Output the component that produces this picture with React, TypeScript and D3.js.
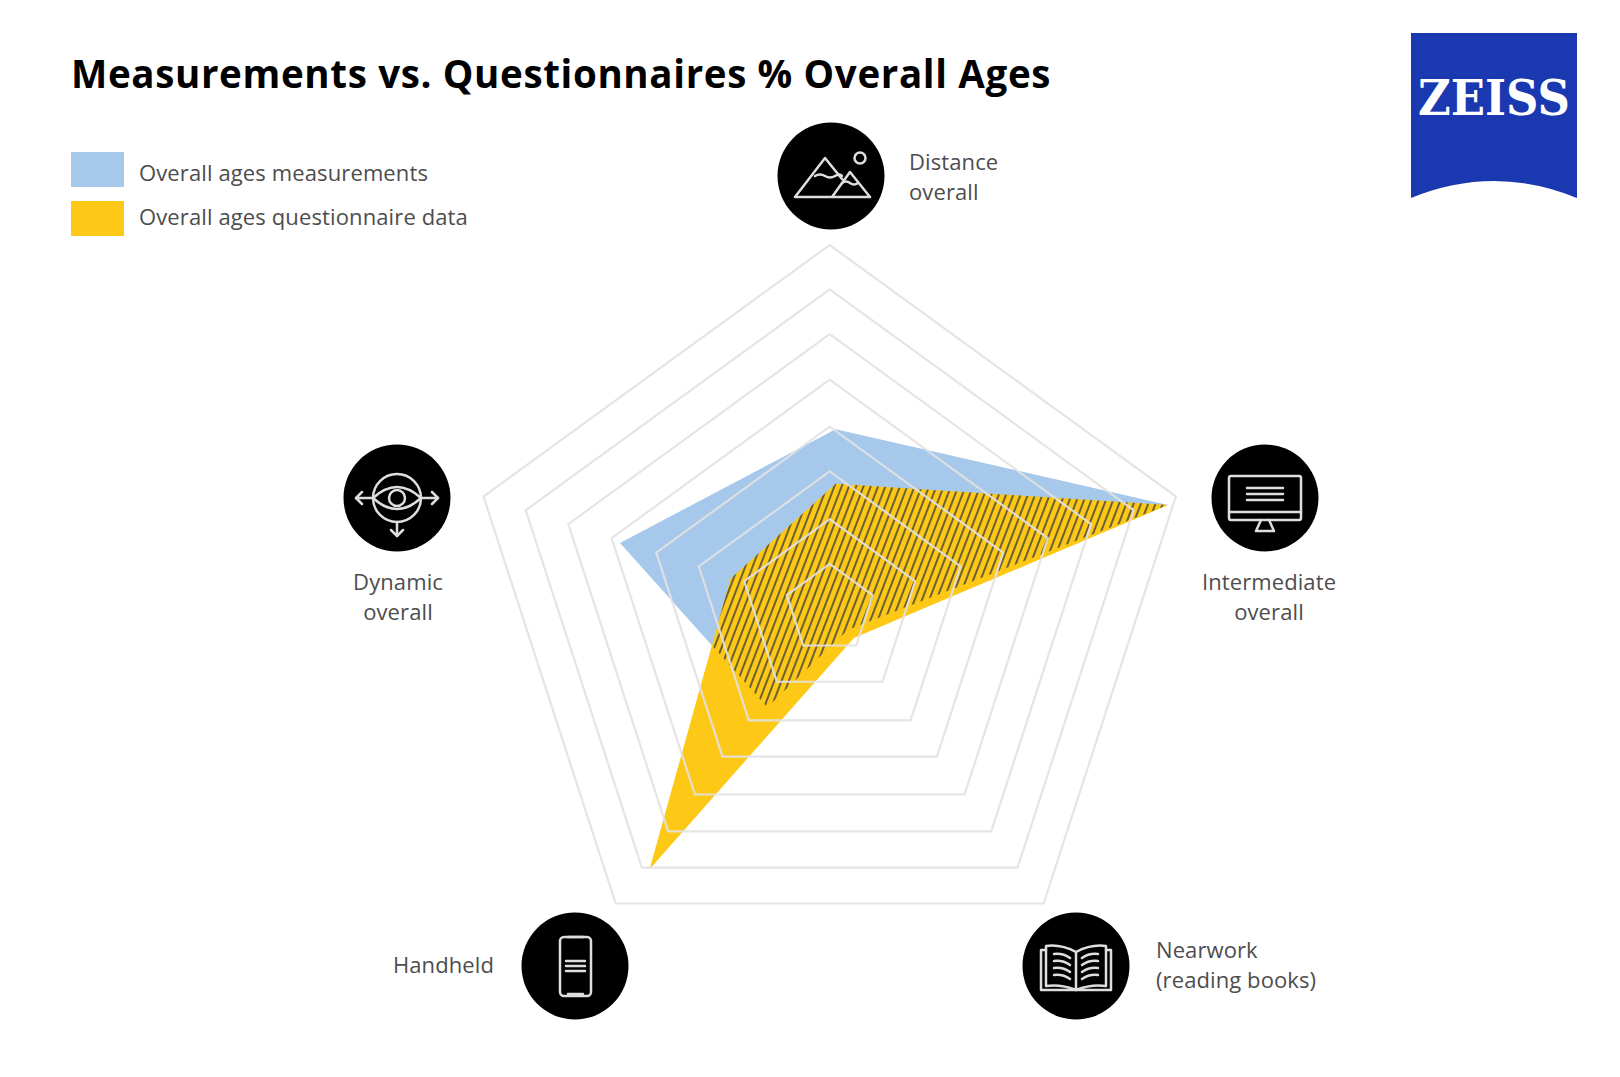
import * as d3 from "d3";

const categories = ["Distance overall", "Intermediate overall", "Nearwork (reading books)", "Handheld", "Dynamic overall"];
const measurements = [50.5, 96, 5.7, 32, 62.3];
const questionnaire = [35.5, 96, 8.5, 87, 30.4];
const ringLevels = [12.4, 24.7, 37.8, 50.1, 63, 75.5, 87.8, 100];
const legendLabels = ["Overall ages measurements", "Overall ages questionnaire data"];

const width = 1620;
const height = 1077;
const cx = 829.7;
const cy = 609;
const radius = 364;
const font = "'Open Sans', sans-serif";
const labelColor = "#4d4d4d";
const iconColor = "#dedede";

const r = d3.scaleLinear().domain([0, 100]).range([0, radius]);
const angle = d3
  .scaleLinear()
  .domain([0, categories.length])
  .range([0, 2 * Math.PI]);

const radar = d3
  .lineRadial<number>()
  .angle((_, i) => angle(i))
  .radius((d) => r(d))
  .curve(d3.curveLinearClosed);

function Badge({ x, y, children }: { x: number; y: number; children: any }) {
  return (
    <g transform={`translate(${x},${y})`}>
      <circle r={53.5} fill="#000" />
      <g fill="none" stroke={iconColor} strokeWidth={2.5} strokeLinejoin="round" strokeLinecap="round">
        {children}
      </g>
    </g>
  );
}

function Label({ x, y, lines, anchor = "start" }: { x: number; y: number; lines: string[]; anchor?: string }) {
  return (
    <text x={x} y={y} textAnchor={anchor} fontFamily={font} fontSize={22} fill={labelColor} letterSpacing={0.1}>
      {lines.map((l, i) => (
        <tspan key={l} x={x} dy={i === 0 ? 0 : 29.5}>
          {l}
        </tspan>
      ))}
    </text>
  );
}

export default function App() {
  const bluePath = radar(measurements) || "";
  const yellowPath = radar(questionnaire) || "";

  return (
    <svg
      width={width}
      height={height}
      viewBox={`0 0 ${width} ${height}`}
      style={{ position: "absolute", left: 0, top: 0, background: "#fff" }}
    >
      <defs>
        <pattern
          id="hatch"
          width={6.8}
          height={6.8}
          patternUnits="userSpaceOnUse"
          patternTransform="rotate(21)"
        >
          <rect x={0} y={0} width={2} height={6.8} fill="#6b5f33" />
        </pattern>
        <clipPath id="yellowClip">
          <path d={yellowPath} />
        </clipPath>
      </defs>

      <text x={71} y={88} fontFamily={font} fontWeight={700} fontSize={38.5} letterSpacing={0.65} fill="#000">
        Measurements vs. Questionnaires % Overall Ages
      </text>

      {legendLabels.map((l, i) => (
        <g key={l}>
          <rect x={71} y={152 + i * 49} width={53} height={35} fill={i === 0 ? "#a5c8eb" : "#fdc816"} />
          <text x={139} y={181 + i * 44} fontFamily={font} fontSize={22} letterSpacing={0.12} fill={labelColor}>
            {l}
          </text>
        </g>
      ))}

      {/* the filled shapes sit slightly off the ring centre in the original */}
      <g transform={`translate(${cx + 6},${cy + 4})`}>
        <path d={bluePath} fill="#a5c8eb" />
        <path d={yellowPath} fill="#fdc816" />
        <g clipPath="url(#yellowClip)">
          <path d={bluePath} fill="url(#hatch)" />
        </g>
      </g>

      <g transform={`translate(${cx},${cy})`} fill="none" stroke="#e2e2e2" strokeOpacity={0.9} strokeWidth={2.2}>
        {ringLevels.map((level) => (
          <path key={level} d={radar(categories.map(() => level)) || ""} />
        ))}
      </g>

      <Badge x={831} y={176}>
        <path d="M-36 21 L39 21 M-36 21 L-6 -18 L11 3 M1 21 L19 -4 L39 21" />
        <path d="M-16 0 Q-11 -3 -6 0 T4 0 T11 0 M11 7 Q15 4 19 7 T27 7" />
        <circle cx={29} cy={-18} r={5.5} />
      </Badge>

      <Badge x={1265} y={498}>
        <rect x={-36} y={-22} width={72} height={44} rx={2} />
        <path d="M-36 14 L36 14 M-18 -10 L18 -10 M-18 -4 L18 -4 M-18 2 L18 2" />
        <path d="M-4 22 L-9 33 L9 33 L4 22" />
      </Badge>

      <Badge x={575} y={966}>
        <rect x={-15} y={-29} width={31} height={59} rx={4} />
        <path d="M-7 -29 L8 -29 M-7 28 L8 28 M-9 -5 L10 -5 M-9 0 L10 0 M-9 5 L10 5" />
      </Badge>

      <Badge x={1076} y={966}>
        <path d="M0 24 L0 -14 Q-15 -22 -30 -20 L-30 20 Q-15 18 0 24 Q15 18 30 20 L30 -20 Q15 -22 0 -14" />
        <path d="M-30 -16 L-35 -16 L-35 24 L35 24 L35 -16 L30 -16" />
        <path d="M-22 -12 Q-13 -13 -6 -8 M-22 -5 Q-13 -6 -6 -1 M-22 2 Q-13 1 -6 6 M-22 9 Q-13 8 -6 13" />
        <path d="M22 -12 Q13 -13 6 -8 M22 -5 Q13 -6 6 -1 M22 2 Q13 1 6 6 M22 9 Q13 8 6 13" />
      </Badge>

      <Badge x={397} y={498}>
        <circle r={24} />
        <path d="M-24 0 Q0 -22 24 0 Q0 22 -24 0 Z" />
        <circle r={8} />
        <path d="M-41 0 L-24 0 M24 0 L41 0 M0 24 L0 38" />
        <path d="M-35 -6 L-41 0 L-35 6 M35 -6 L41 0 L35 6 M-6 32 L0 38 L6 32" />
      </Badge>

      <Label x={909} y={170} lines={["Distance", "overall"]} />
      <Label x={1269} y={590} anchor="middle" lines={["Intermediate", "overall"]} />
      <Label x={1156} y={958} lines={["Nearwork", "(reading books)"]} />
      <Label x={494} y={973} anchor="end" lines={[categories[3]]} />
      <Label x={398} y={590} anchor="middle" lines={["Dynamic", "overall"]} />

      <path d="M1411 33 L1577 33 L1577 198 Q1494 164 1411 198 Z" fill="#1a38b0" />
      <text
        x={1418}
        y={115}
        fontFamily="'DejaVu Serif', serif"
        fontWeight={700}
        fontSize={49}
        fill="#fff"
        textLength={152}
        lengthAdjust="spacingAndGlyphs"
      >
        ZEISS
      </text>
    </svg>
  );
}
